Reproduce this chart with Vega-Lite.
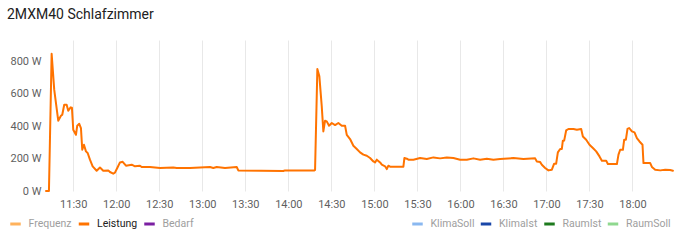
{
  "$schema": "https://vega.github.io/schema/vega-lite/v6.json",
  "autosize": {"type": "none"},
  "width": 627,
  "height": 151,
  "padding": {"left": 46, "top": 40, "right": 17, "bottom": 49},
  "background": "white",
  "config": {
    "font": "Roboto",
    "view": {"stroke": null},
    "axis": {"labelFont": "Roboto", "labelColor": "#5f5f5f", "labelFontSize": 11, "domain": false, "ticks": false, "labelOverlap": false},
    "legend": {"labelFont": "Roboto", "labelFontSize": 10.5, "padding": 0, "symbolType": "stroke", "symbolStrokeWidth": 3, "symbolSize": 110, "labelOffset": 6, "columnPadding": -0.5, "direction": "horizontal", "orient": "none"}
  },
  "title": {"text": "2MXM40 Schlafzimmer", "anchor": "start", "frame": "group", "dx": -39, "offset": 7, "baseline": "alphabetic", "fontSize": 14, "fontWeight": "normal", "color": "#212121", "font": "Roboto"},
  "data": {"values": [
    {"t": "2024-01-01T11:11:00", "w": 0, "series": "Leistung"},
    {"t": "2024-01-01T11:13:03", "w": 0, "series": "Leistung"},
    {"t": "2024-01-01T11:14:56", "w": 845, "series": "Leistung"},
    {"t": "2024-01-01T11:16:44", "w": 624, "series": "Leistung"},
    {"t": "2024-01-01T11:19:32", "w": 433, "series": "Leistung"},
    {"t": "2024-01-01T11:21:25", "w": 463, "series": "Leistung"},
    {"t": "2024-01-01T11:22:20", "w": 470, "series": "Leistung"},
    {"t": "2024-01-01T11:23:43", "w": 531, "series": "Leistung"},
    {"t": "2024-01-01T11:25:24", "w": 531, "series": "Leistung"},
    {"t": "2024-01-01T11:26:31", "w": 494, "series": "Leistung"},
    {"t": "2024-01-01T11:28:11", "w": 515, "series": "Leistung"},
    {"t": "2024-01-01T11:29:05", "w": 513, "series": "Leistung"},
    {"t": "2024-01-01T11:30:00", "w": 377, "series": "Leistung"},
    {"t": "2024-01-01T11:31:53", "w": 346, "series": "Leistung"},
    {"t": "2024-01-01T11:32:47", "w": 402, "series": "Leistung"},
    {"t": "2024-01-01T11:34:11", "w": 414, "series": "Leistung"},
    {"t": "2024-01-01T11:35:22", "w": 388, "series": "Leistung"},
    {"t": "2024-01-01T11:36:17", "w": 254, "series": "Leistung"},
    {"t": "2024-01-01T11:37:28", "w": 285, "series": "Leistung"},
    {"t": "2024-01-01T11:38:52", "w": 244, "series": "Leistung"},
    {"t": "2024-01-01T11:40:03", "w": 234, "series": "Leistung"},
    {"t": "2024-01-01T11:41:39", "w": 193, "series": "Leistung"},
    {"t": "2024-01-01T11:43:32", "w": 152, "series": "Leistung"},
    {"t": "2024-01-01T11:46:20", "w": 125, "series": "Leistung"},
    {"t": "2024-01-01T11:48:38", "w": 145, "series": "Leistung"},
    {"t": "2024-01-01T11:50:56", "w": 125, "series": "Leistung"},
    {"t": "2024-01-01T11:54:25", "w": 127, "series": "Leistung"},
    {"t": "2024-01-01T11:55:36", "w": 117, "series": "Leistung"},
    {"t": "2024-01-01T11:57:54", "w": 107, "series": "Leistung"},
    {"t": "2024-01-01T11:59:05", "w": 113, "series": "Leistung"},
    {"t": "2024-01-01T12:00:42", "w": 142, "series": "Leistung"},
    {"t": "2024-01-01T12:02:35", "w": 176, "series": "Leistung"},
    {"t": "2024-01-01T12:04:28", "w": 180, "series": "Leistung"},
    {"t": "2024-01-01T12:06:46", "w": 156, "series": "Leistung"},
    {"t": "2024-01-01T12:10:45", "w": 162, "series": "Leistung"},
    {"t": "2024-01-01T12:13:03", "w": 152, "series": "Leistung"},
    {"t": "2024-01-01T12:16:32", "w": 156, "series": "Leistung"},
    {"t": "2024-01-01T12:17:43", "w": 148, "series": "Leistung"},
    {"t": "2024-01-01T12:23:31", "w": 148, "series": "Leistung"},
    {"t": "2024-01-01T12:30:29", "w": 142, "series": "Leistung"},
    {"t": "2024-01-01T12:39:46", "w": 145, "series": "Leistung"},
    {"t": "2024-01-01T12:42:08", "w": 142, "series": "Leistung"},
    {"t": "2024-01-01T12:51:25", "w": 142, "series": "Leistung"},
    {"t": "2024-01-01T13:05:22", "w": 148, "series": "Leistung"},
    {"t": "2024-01-01T13:07:40", "w": 142, "series": "Leistung"},
    {"t": "2024-01-01T13:10:03", "w": 148, "series": "Leistung"},
    {"t": "2024-01-01T13:15:50", "w": 142, "series": "Leistung"},
    {"t": "2024-01-01T13:24:00", "w": 148, "series": "Leistung"},
    {"t": "2024-01-01T13:25:07", "w": 127, "series": "Leistung"},
    {"t": "2024-01-01T13:56:31", "w": 123, "series": "Leistung"},
    {"t": "2024-01-01T13:57:42", "w": 127, "series": "Leistung"},
    {"t": "2024-01-01T14:18:08", "w": 127, "series": "Leistung"},
    {"t": "2024-01-01T14:18:38", "w": 130, "series": "Leistung"},
    {"t": "2024-01-01T14:20:14", "w": 751, "series": "Leistung"},
    {"t": "2024-01-01T14:21:38", "w": 706, "series": "Leistung"},
    {"t": "2024-01-01T14:23:18", "w": 521, "series": "Leistung"},
    {"t": "2024-01-01T14:24:25", "w": 367, "series": "Leistung"},
    {"t": "2024-01-01T14:25:36", "w": 433, "series": "Leistung"},
    {"t": "2024-01-01T14:26:47", "w": 429, "series": "Leistung"},
    {"t": "2024-01-01T14:28:24", "w": 402, "series": "Leistung"},
    {"t": "2024-01-01T14:30:17", "w": 419, "series": "Leistung"},
    {"t": "2024-01-01T14:32:35", "w": 406, "series": "Leistung"},
    {"t": "2024-01-01T14:34:53", "w": 419, "series": "Leistung"},
    {"t": "2024-01-01T14:37:15", "w": 402, "series": "Leistung"},
    {"t": "2024-01-01T14:39:34", "w": 402, "series": "Leistung"},
    {"t": "2024-01-01T14:40:45", "w": 346, "series": "Leistung"},
    {"t": "2024-01-01T14:43:03", "w": 320, "series": "Leistung"},
    {"t": "2024-01-01T14:45:21", "w": 279, "series": "Leistung"},
    {"t": "2024-01-01T14:47:43", "w": 259, "series": "Leistung"},
    {"t": "2024-01-01T14:50:01", "w": 238, "series": "Leistung"},
    {"t": "2024-01-01T14:52:20", "w": 224, "series": "Leistung"},
    {"t": "2024-01-01T14:54:42", "w": 217, "series": "Leistung"},
    {"t": "2024-01-01T14:57:00", "w": 203, "series": "Leistung"},
    {"t": "2024-01-01T14:59:18", "w": 182, "series": "Leistung"},
    {"t": "2024-01-01T15:00:29", "w": 176, "series": "Leistung"},
    {"t": "2024-01-01T15:01:40", "w": 193, "series": "Leistung"},
    {"t": "2024-01-01T15:03:59", "w": 176, "series": "Leistung"},
    {"t": "2024-01-01T15:05:10", "w": 162, "series": "Leistung"},
    {"t": "2024-01-01T15:07:28", "w": 152, "series": "Leistung"},
    {"t": "2024-01-01T15:08:39", "w": 135, "series": "Leistung"},
    {"t": "2024-01-01T15:09:46", "w": 156, "series": "Leistung"},
    {"t": "2024-01-01T15:10:57", "w": 150, "series": "Leistung"},
    {"t": "2024-01-01T15:20:14", "w": 150, "series": "Leistung"},
    {"t": "2024-01-01T15:20:56", "w": 203, "series": "Leistung"},
    {"t": "2024-01-01T15:22:36", "w": 199, "series": "Leistung"},
    {"t": "2024-01-01T15:23:43", "w": 193, "series": "Leistung"},
    {"t": "2024-01-01T15:27:13", "w": 193, "series": "Leistung"},
    {"t": "2024-01-01T15:31:53", "w": 203, "series": "Leistung"},
    {"t": "2024-01-01T15:36:33", "w": 197, "series": "Leistung"},
    {"t": "2024-01-01T15:41:10", "w": 207, "series": "Leistung"},
    {"t": "2024-01-01T15:45:50", "w": 201, "series": "Leistung"},
    {"t": "2024-01-01T15:50:31", "w": 207, "series": "Leistung"},
    {"t": "2024-01-01T15:55:07", "w": 203, "series": "Leistung"},
    {"t": "2024-01-01T15:59:48", "w": 193, "series": "Leistung"},
    {"t": "2024-01-01T16:04:28", "w": 193, "series": "Leistung"},
    {"t": "2024-01-01T16:09:04", "w": 201, "series": "Leistung"},
    {"t": "2024-01-01T16:13:45", "w": 193, "series": "Leistung"},
    {"t": "2024-01-01T16:18:25", "w": 199, "series": "Leistung"},
    {"t": "2024-01-01T16:23:01", "w": 193, "series": "Leistung"},
    {"t": "2024-01-01T16:27:42", "w": 197, "series": "Leistung"},
    {"t": "2024-01-01T16:36:59", "w": 203, "series": "Leistung"},
    {"t": "2024-01-01T16:43:57", "w": 197, "series": "Leistung"},
    {"t": "2024-01-01T16:52:07", "w": 201, "series": "Leistung"},
    {"t": "2024-01-01T16:53:18", "w": 182, "series": "Leistung"},
    {"t": "2024-01-01T16:55:37", "w": 178, "series": "Leistung"},
    {"t": "2024-01-01T16:56:47", "w": 162, "series": "Leistung"},
    {"t": "2024-01-01T16:59:05", "w": 142, "series": "Leistung"},
    {"t": "2024-01-01T17:01:24", "w": 127, "series": "Leistung"},
    {"t": "2024-01-01T17:03:46", "w": 131, "series": "Leistung"},
    {"t": "2024-01-01T17:05:22", "w": 168, "series": "Leistung"},
    {"t": "2024-01-01T17:06:46", "w": 168, "series": "Leistung"},
    {"t": "2024-01-01T17:07:57", "w": 238, "series": "Leistung"},
    {"t": "2024-01-01T17:09:34", "w": 259, "series": "Leistung"},
    {"t": "2024-01-01T17:10:44", "w": 259, "series": "Leistung"},
    {"t": "2024-01-01T17:11:26", "w": 310, "series": "Leistung"},
    {"t": "2024-01-01T17:12:21", "w": 310, "series": "Leistung"},
    {"t": "2024-01-01T17:13:44", "w": 373, "series": "Leistung"},
    {"t": "2024-01-01T17:15:21", "w": 382, "series": "Leistung"},
    {"t": "2024-01-01T17:18:50", "w": 382, "series": "Leistung"},
    {"t": "2024-01-01T17:21:13", "w": 377, "series": "Leistung"},
    {"t": "2024-01-01T17:24:13", "w": 382, "series": "Leistung"},
    {"t": "2024-01-01T17:25:24", "w": 336, "series": "Leistung"},
    {"t": "2024-01-01T17:27:42", "w": 316, "series": "Leistung"},
    {"t": "2024-01-01T17:30:00", "w": 285, "series": "Leistung"},
    {"t": "2024-01-01T17:32:23", "w": 265, "series": "Leistung"},
    {"t": "2024-01-01T17:34:41", "w": 244, "series": "Leistung"},
    {"t": "2024-01-01T17:36:59", "w": 213, "series": "Leistung"},
    {"t": "2024-01-01T17:38:39", "w": 187, "series": "Leistung"},
    {"t": "2024-01-01T17:41:39", "w": 187, "series": "Leistung"},
    {"t": "2024-01-01T17:42:50", "w": 166, "series": "Leistung"},
    {"t": "2024-01-01T17:49:07", "w": 166, "series": "Leistung"},
    {"t": "2024-01-01T17:50:14", "w": 224, "series": "Leistung"},
    {"t": "2024-01-01T17:51:25", "w": 254, "series": "Leistung"},
    {"t": "2024-01-01T17:53:18", "w": 254, "series": "Leistung"},
    {"t": "2024-01-01T17:54:13", "w": 316, "series": "Leistung"},
    {"t": "2024-01-01T17:55:24", "w": 316, "series": "Leistung"},
    {"t": "2024-01-01T17:56:31", "w": 382, "series": "Leistung"},
    {"t": "2024-01-01T17:57:42", "w": 388, "series": "Leistung"},
    {"t": "2024-01-01T17:59:35", "w": 367, "series": "Leistung"},
    {"t": "2024-01-01T18:01:24", "w": 361, "series": "Leistung"},
    {"t": "2024-01-01T18:03:04", "w": 326, "series": "Leistung"},
    {"t": "2024-01-01T18:04:53", "w": 305, "series": "Leistung"},
    {"t": "2024-01-01T18:06:59", "w": 285, "series": "Leistung"},
    {"t": "2024-01-01T18:07:40", "w": 172, "series": "Leistung"},
    {"t": "2024-01-01T18:12:21", "w": 172, "series": "Leistung"},
    {"t": "2024-01-01T18:13:32", "w": 148, "series": "Leistung"},
    {"t": "2024-01-01T18:15:50", "w": 131, "series": "Leistung"},
    {"t": "2024-01-01T18:19:20", "w": 127, "series": "Leistung"},
    {"t": "2024-01-01T18:22:49", "w": 131, "series": "Leistung"},
    {"t": "2024-01-01T18:26:18", "w": 129, "series": "Leistung"},
    {"t": "2024-01-01T18:28:11", "w": 125, "series": "Leistung"}
  ]},
  "encoding": {
    "x": {"field": "t", "type": "temporal", "title": null,
      "scale": {"domain": [{"year": 2024, "month": 1, "date": 1, "hours": 11, "minutes": 11}, {"year": 2024, "month": 1, "date": 1, "hours": 18, "minutes": 28, "seconds": 15}]},
      "axis": {"format": "%H:%M", "values": [
        {"year": 2024, "month": 1, "date": 1, "hours": 11, "minutes": 30},
        {"year": 2024, "month": 1, "date": 1, "hours": 12, "minutes": 0},
        {"year": 2024, "month": 1, "date": 1, "hours": 12, "minutes": 30},
        {"year": 2024, "month": 1, "date": 1, "hours": 13, "minutes": 0},
        {"year": 2024, "month": 1, "date": 1, "hours": 13, "minutes": 30},
        {"year": 2024, "month": 1, "date": 1, "hours": 14, "minutes": 0},
        {"year": 2024, "month": 1, "date": 1, "hours": 14, "minutes": 30},
        {"year": 2024, "month": 1, "date": 1, "hours": 15, "minutes": 0},
        {"year": 2024, "month": 1, "date": 1, "hours": 15, "minutes": 30},
        {"year": 2024, "month": 1, "date": 1, "hours": 16, "minutes": 0},
        {"year": 2024, "month": 1, "date": 1, "hours": 16, "minutes": 30},
        {"year": 2024, "month": 1, "date": 1, "hours": 17, "minutes": 0},
        {"year": 2024, "month": 1, "date": 1, "hours": 17, "minutes": 30},
        {"year": 2024, "month": 1, "date": 1, "hours": 18, "minutes": 0}
      ], "grid": true, "gridColor": "#e8e8e8", "gridWidth": 1, "labelPadding": 7, "labelFlush": false}},
    "y": {"field": "w", "type": "quantitative", "title": null,
      "scale": {"domain": [0, 930], "nice": false},
      "axis": {"values": [0, 200, 400, 600, 800], "grid": false, "labelExpr": "datum.value + ' W'", "labelPadding": 5}}
  },
  "layer": [
    {
      "mark": {"type": "line", "strokeWidth": 2, "strokeJoin": "round", "strokeCap": "round"},
      "encoding": {
        "color": {"field": "series", "type": "nominal",
          "scale": {"domain": ["Frequenz", "Leistung", "Bedarf"], "range": ["#ffb25c", "#ff7300", "#7b1fa2"]},
          "legend": {"title": null, "legendX": -37.5, "legendY": 177,
            "encode": {"labels": {"update": {"fill": {"signal": "datum.label === 'Leistung' ? '#212121' : '#9e9e9e'"}}}}}}
      }
    },
    {
      "transform": [{"filter": "datum.series === 'KlimaSoll'"}],
      "mark": {"type": "line", "strokeWidth": 2},
      "encoding": {
        "stroke": {"field": "series", "type": "nominal",
          "scale": {"domain": ["KlimaSoll", "KlimaIst", "RaumIst", "RaumSoll"], "range": ["#8ab8f0", "#1a47a8", "#1e7a1e", "#8fd88f"]},
          "legend": {"title": null, "legendX": 364.5, "legendY": 177,
            "encode": {"labels": {"update": {"fill": {"value": "#9e9e9e"}}}}}}
      }
    }
  ],
  "resolve": {"legend": {"color": "independent", "stroke": "independent"}}
}
